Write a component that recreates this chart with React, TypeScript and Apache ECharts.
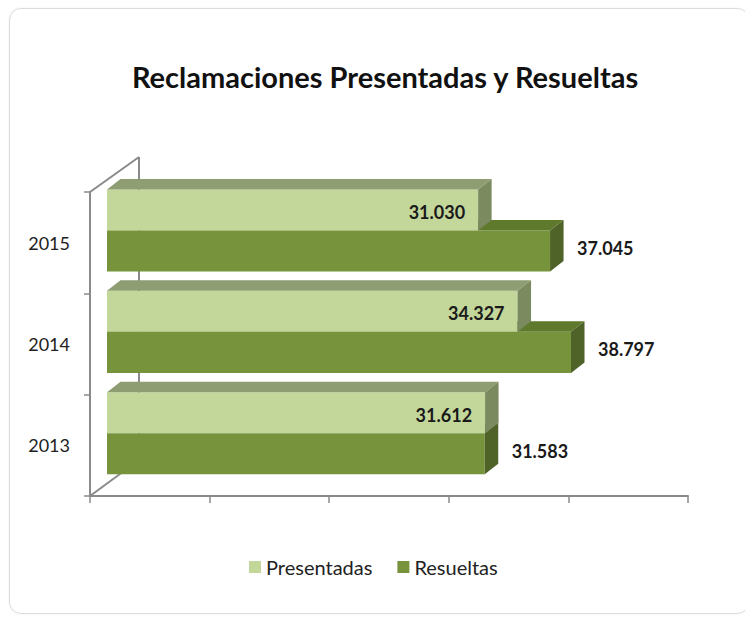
import React, { useEffect, useRef } from "react";
import * as echarts from "echarts";

const categories = ["2013", "2014", "2015"];
const presentadas = [31612, 34327, 31030];
const resueltas = [31583, 38797, 37045];
const xMin = 0;
const xMax = 50000;
const xInterval = 10000;

const FONT = "Lato, 'Open Sans', sans-serif";
const AXIS_COLOR = "#8a8a8a";

const fmt = (n: number) => String(n).replace(/\B(?=(\d{3})+(?!\d))/g, ".");

const PRES = { front: "#c4d79b", top: "#8f9d72", side: "#7b8a5f" };
const RES = { front: "#77933c", top: "#5f7a2c", side: "#4f6228" };

const DX = 13.5;
const DY = -10.5;
const SHIFT = 17;

function makeRender(slot: number, col: { front: string; top: string; side: string }, labelInside: boolean) {
  return (params: any, api: any) => {
    const v = api.value(0);
    const c = api.value(1);
    const p0 = api.coord([0, c]);
    const p1 = api.coord([v, c]);
    const band = api.size([0, 1])[1];
    const barH = band * 0.405;
    const bandTop = p0[1] - band / 2;
    const yTop = bandTop - 2.5 + slot * barH;
    const x0 = p0[0] + SHIFT;
    const x1 = p1[0] + SHIFT;
    const children: any[] = [
      {
        type: "rect",
        shape: { x: x0, y: yTop, width: x1 - x0, height: barH },
        style: { fill: col.front },
      },
      {
        type: "polygon",
        shape: {
          points: [
            [x0, yTop],
            [x1, yTop],
            [x1 + DX, yTop + DY],
            [x0 + DX, yTop + DY],
          ],
        },
        style: { fill: col.top },
      },
      {
        type: "polygon",
        shape: {
          points: [
            [x1, yTop],
            [x1 + DX, yTop + DY],
            [x1 + DX, yTop + DY + barH],
            [x1, yTop + barH],
          ],
        },
        style: { fill: col.side },
      },
      {
        type: "text",
        style: labelInside
          ? {
              text: fmt(v),
              x: x1 - 13,
              y: yTop + barH / 2 + 2,
              align: "right",
              verticalAlign: "middle",
              fill: "#1a1a1a",
              fontSize: 18,
              fontWeight: "bold",
              fontFamily: FONT,
            }
          : {
              text: fmt(v),
              x: x1 + 27,
              y: yTop + barH / 2 - 3,
              align: "left",
              verticalAlign: "middle",
              fill: "#1a1a1a",
              fontSize: 18,
              fontWeight: "bold",
              fontFamily: FONT,
            },
      },
    ];
    return { type: "group", children };
  };
}

function wallRender(params: any, api: any) {
  const cs = params.coordSys;
  const left = cs.x;
  const top = cs.y;
  const bottom = cs.y + cs.height;
  const bx = left + 49;
  const style = { stroke: AXIS_COLOR, lineWidth: 2, fill: "none" };
  return {
    type: "group",
    children: [
      { type: "line", shape: { x1: left, y1: top, x2: bx, y2: top - 35 }, style },
      { type: "line", shape: { x1: bx, y1: top - 35, x2: bx, y2: bottom - 36 }, style },
      { type: "line", shape: { x1: left, y1: bottom, x2: bx, y2: bottom - 36 }, style },
    ],
  };
}

export default function App() {
  const ref = useRef<HTMLDivElement>(null);
  useEffect(() => {
    if (!ref.current) return;
    const chart = echarts.init(ref.current, undefined, { renderer: "svg" });
    chart.setOption({
      animation: false,
      backgroundColor: "transparent",
      title: {
        text: "Reclamaciones Presentadas y Resueltas",
        left: 385,
        top: 62,
        padding: 0,
        textAlign: "center",
        textStyle: { fontFamily: FONT, fontWeight: "bold", fontSize: 29, color: "#111" },
      },
      legend: {
        data: ["Presentadas", "Resueltas"],
        left: 249,
        top: 557,
        padding: 0,
        icon: "rect",
        itemWidth: 12,
        itemHeight: 12,
        itemGap: 25,
        textStyle: { fontFamily: FONT, fontSize: 20, color: "#222" },
      },
      grid: { left: 90, top: 192, width: 598, height: 304 },
      xAxis: {
        type: "value",
        min: xMin,
        max: xMax,
        interval: xInterval,
        axisLine: { show: true, lineStyle: { color: AXIS_COLOR, width: 2 } },
        axisTick: { show: true, length: 7, lineStyle: { color: AXIS_COLOR, width: 1.5 } },
        axisLabel: { show: false },
        splitLine: { show: false },
      },
      yAxis: {
        type: "category",
        data: categories,
        axisLine: { show: true, lineStyle: { color: AXIS_COLOR, width: 2 } },
        axisTick: { show: true, length: 6, lineStyle: { color: AXIS_COLOR, width: 1.5 } },
        axisLabel: { fontFamily: FONT, fontSize: 18, color: "#222", margin: 20, padding: [4, 0, 0, 0] },
        splitLine: { show: false },
      },
      series: [
        {
          type: "custom",
          name: "wall",
          z: 1,
          silent: true,
          renderItem: wallRender,
          data: [[0, 0]],
        },
        {
          type: "custom",
          name: "Resueltas",
          z: 2,
          itemStyle: { color: RES.front },
          renderItem: makeRender(1, RES, false),
          data: resueltas.map((v, i) => [v, i]),
        },
        {
          type: "custom",
          name: "Presentadas",
          z: 3,
          itemStyle: { color: PRES.front },
          renderItem: makeRender(0, PRES, true),
          data: presentadas.map((v, i) => [v, i]),
        },
      ],
    });
    return () => chart.dispose();
  }, []);

  return (
    <div style={{ position: "fixed", left: 0, top: 0, width: 745, height: 619, background: "#fff" }}>
      <div
        style={{
          position: "absolute",
          left: 9,
          top: 8,
          width: 740,
          height: 606,
          border: "1px solid #dcdcdc",
          borderRadius: 12,
          boxShadow: "0 0 2px rgba(0,0,0,0.08)",
          boxSizing: "border-box",
        }}
      />
      <div ref={ref} style={{ position: "absolute", left: 0, top: 0, width: 745, height: 619 }} />
    </div>
  );
}
